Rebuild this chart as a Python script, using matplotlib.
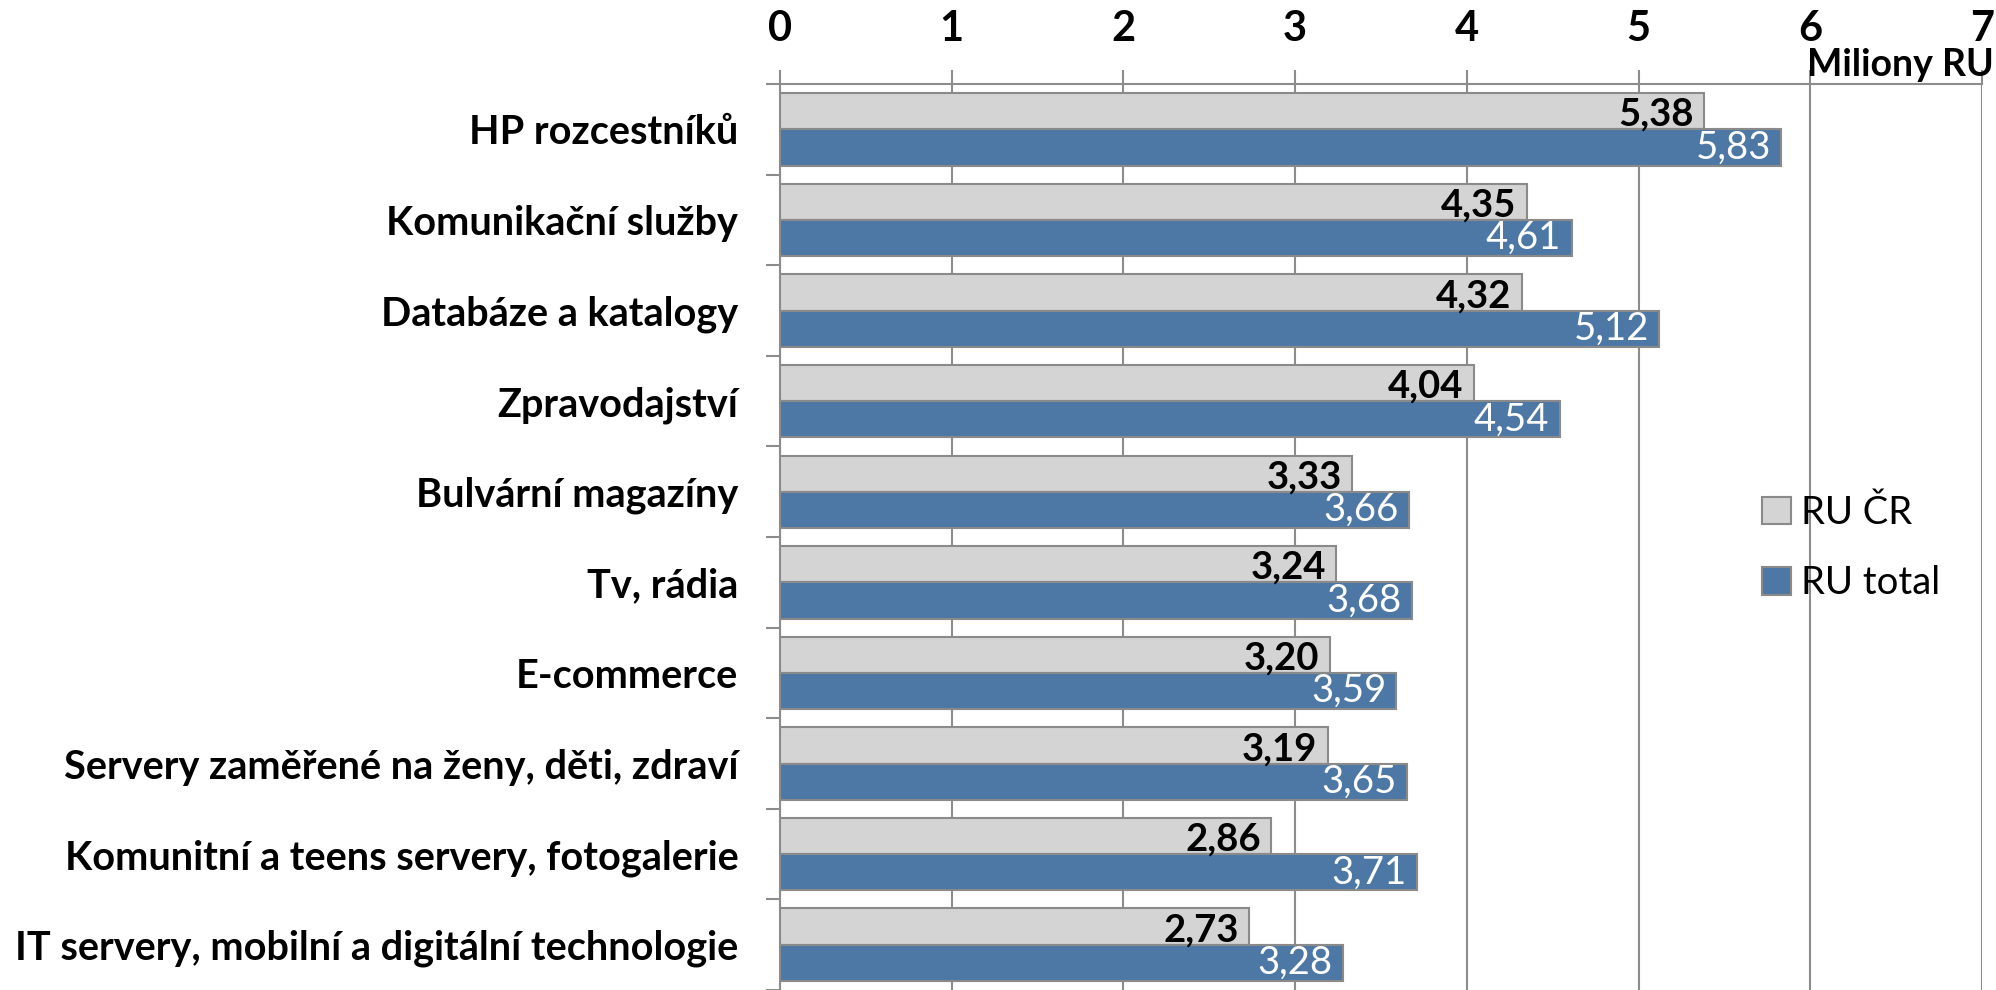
import matplotlib
matplotlib.use("Agg")
import matplotlib.pyplot as plt
import numpy as np
from matplotlib.patches import Patch

categories = [
    "HP rozcestníků",
    "Komunikační služby",
    "Databáze a katalogy",
    "Zpravodajství",
    "Bulvární magazíny",
    "Tv, rádia",
    "E-commerce",
    "Servery zaměřené na ženy, děti, zdraví",
    "Komunitní a teens servery, fotogalerie",
    "IT servery, mobilní a digitální technologie",
]
ru_cr = [5.38, 4.35, 4.32, 4.04, 3.33, 3.24, 3.20, 3.19, 2.86, 2.73]
ru_total = [5.83, 4.61, 5.12, 4.54, 3.66, 3.68, 3.59, 3.65, 3.71, 3.28]
series_names = ["RU ČR", "RU total"]
x_ticks = [0, 1, 2, 3, 4, 5, 6, 7]
unit_label = "Miliony RU"

FONT = "Lato"
GRAY = "#d4d4d4"
BLUE = "#4d78a5"
EDGE = "#8a8a8a"
GRID = "#8c8c8c"

fig = plt.figure(figsize=(19.96, 9.90), dpi=100)
ax = fig.add_axes([0.3908, 0.0, 0.993 - 0.3908, 0.915])

n = len(categories)
pos = np.arange(n)
h = 0.4
ax.barh(pos - h / 2, ru_cr, height=h, color=GRAY, edgecolor=EDGE, linewidth=1.5, zorder=3)
ax.barh(pos + h / 2, ru_total, height=h, color=BLUE, edgecolor=EDGE, linewidth=1.5, zorder=3)

for i in range(n):
    ax.text(ru_cr[i] - 0.06, pos[i] - h / 2 + 0.04, f"{ru_cr[i]:.2f}".replace(".", ","),
            ha="right", va="center", fontsize=27.5, fontweight="bold", color="black",
            family=FONT, zorder=4)
    ax.text(ru_total[i] - 0.06, pos[i] + h / 2, f"{ru_total[i]:.2f}".replace(".", ","),
            ha="right", va="center", fontsize=27.5, color="white", family=FONT, zorder=4)

ax.set_xlim(0, 7)
ax.set_ylim(n - 0.5, -0.5)

ax.xaxis.tick_top()
ax.set_xticks(x_ticks)
ax.set_xticklabels([str(t) for t in x_ticks], fontsize=30, fontweight="bold", family=FONT)
ax.tick_params(axis="x", which="major", length=10, width=1.5, color=GRID, pad=16)
ax.grid(axis="x", color=GRID, linewidth=1.5, zorder=0)

ax.set_yticks(np.arange(n + 1) - 0.5)
ax.set_yticklabels([])
ax.tick_params(axis="y", which="major", length=10, width=1.5, color=GRID)
ax.set_yticks(pos, minor=True)
ax.set_yticklabels(categories, minor=True, fontsize=28.5, fontweight="bold", family=FONT)
ax.tick_params(axis="y", which="minor", length=0, pad=30)

for s in ["right", "bottom"]:
    ax.spines[s].set_visible(False)
for s in ["left", "top"]:
    ax.spines[s].set_color(GRID)
    ax.spines[s].set_linewidth(1.5)

fig.text(0.999, 1 - 65 / 990, unit_label, ha="right", va="center", fontsize=27,
         fontweight="bold", family=FONT)

handles = [Patch(facecolor=GRAY, edgecolor=EDGE, linewidth=1.5),
           Patch(facecolor=BLUE, edgecolor=EDGE, linewidth=1.5)]
fig.legend(handles, series_names, loc="center left", bbox_to_anchor=(1728 / 1996, 1 - 548 / 990),
           frameon=False, prop={"family": FONT, "size": 27.5}, handlelength=0.75, handleheight=0.75,
           handletextpad=0.25, labelspacing=0.9)

fig.savefig("out.png", dpi=100)
